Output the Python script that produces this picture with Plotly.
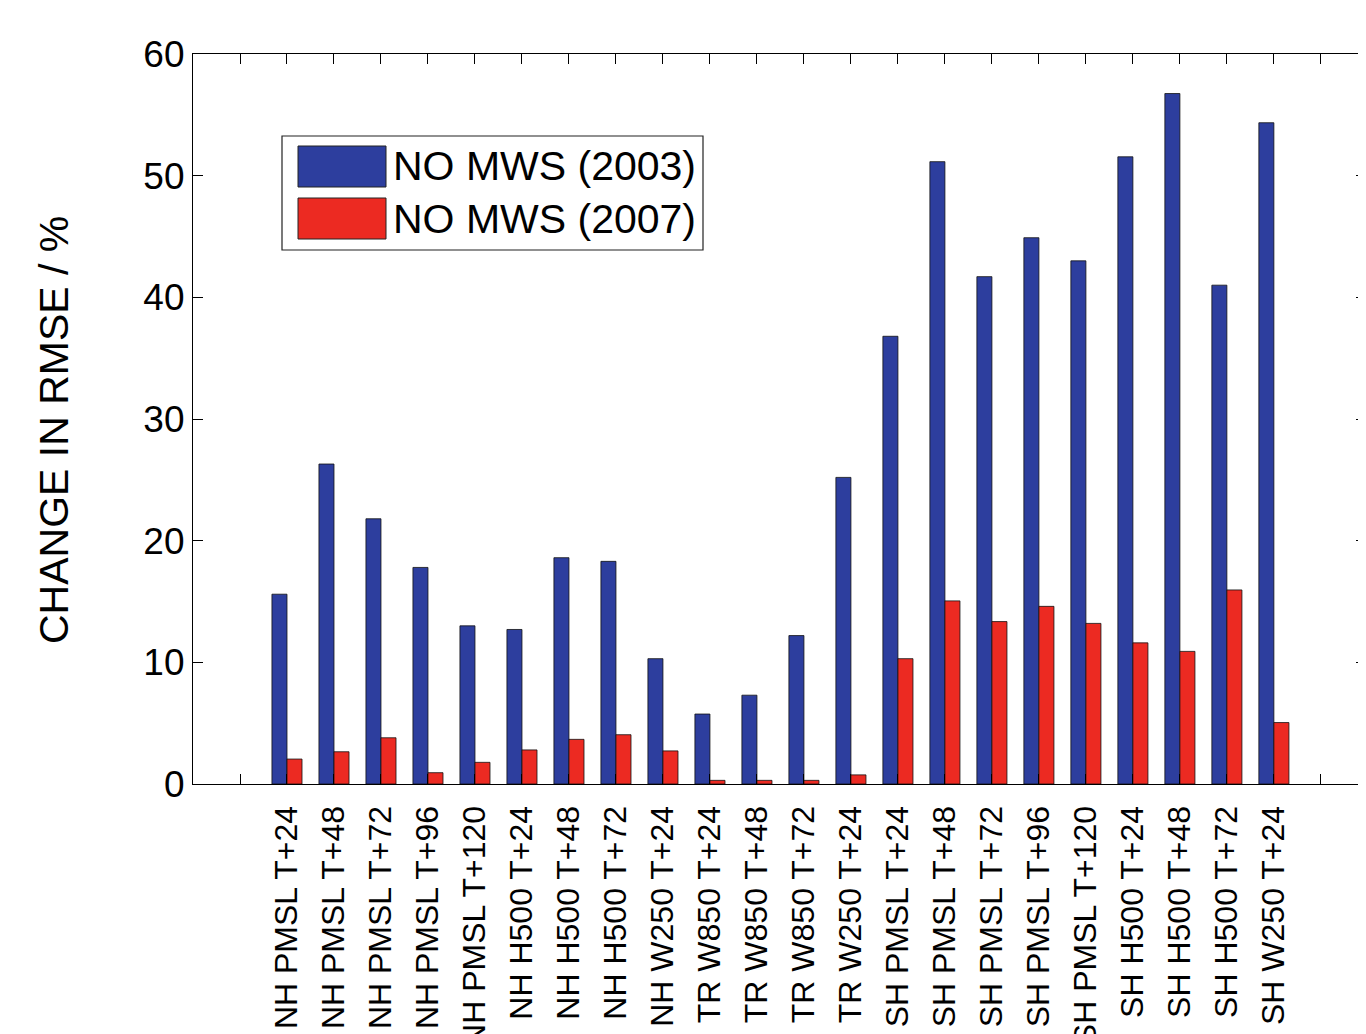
import plotly.graph_objects as go

categories = [
    "NH PMSL T+24", "NH PMSL T+48", "NH PMSL T+72", "NH PMSL T+96", "NH PMSL T+120",
    "NH H500 T+24", "NH H500 T+48", "NH H500 T+72", "NH W250 T+24",
    "TR W850 T+24", "TR W850 T+48", "TR W850 T+72", "TR W250 T+24",
    "SH PMSL T+24", "SH PMSL T+48", "SH PMSL T+72", "SH PMSL T+96", "SH PMSL T+120",
    "SH H500 T+24", "SH H500 T+48", "SH H500 T+72", "SH W250 T+24",
]
no_mws_2003 = [15.6, 26.3, 21.8, 17.8, 13.0, 12.7, 18.6, 18.3, 10.3,
               5.75, 7.3, 12.2, 25.2,
               36.8, 51.15, 41.7, 44.9, 43.0, 51.55, 56.75, 41.0, 54.35]
no_mws_2007 = [2.05, 2.65, 3.8, 0.93, 1.78, 2.8, 3.67, 4.05, 2.72,
               0.3, 0.3, 0.3, 0.75,
               10.3, 15.05, 13.35, 14.6, 13.2, 11.6, 10.9, 15.95, 5.05]
series_names = ["NO MWS (2003)", "NO MWS (2007)"]
y_ticks = [0, 10, 20, 30, 40, 50, 60]

BLUE = "#2D3E9E"
RED = "#EC2A22"
FONT = "Liberation Sans, Arial, Helvetica, sans-serif"

# page body has an 8px margin; compensate so the plot lands where the reference has it
OFF = 8
W, H = 1366 - OFF, 1034 - OFF
ML, MR, MT, MB = 193 - OFF, 0, 54 - OFF, 250
PW, PH = W - ML - MR, H - MT - MB

positions = list(range(1, len(categories) + 1))
tick_positions = list(range(0, len(categories) + 2))
tick_text = [""] + categories + [""]

fig = go.Figure()
fig.add_trace(go.Bar(x=positions, y=no_mws_2003, name=series_names[0],
                     marker=dict(color=BLUE, line=dict(color="#111111", width=0.8))))
fig.add_trace(go.Bar(x=positions, y=no_mws_2007, name=series_names[1],
                     marker=dict(color=RED, line=dict(color="#111111", width=0.8))))


def px_x(p):
    # p: pixel in reference image coordinates
    return (p - OFF - ML) / PW


def px_y(p):
    return (H - MB - (p - OFF)) / PH


shapes = []
annotations = []
shapes.append(dict(type="rect", xref="paper", yref="paper",
                   x0=px_x(282), x1=px_x(703), y0=px_y(250), y1=px_y(136),
                   line=dict(color="#222222", width=1.2), fillcolor="white", layer="above"))
for i, (nm, col) in enumerate(zip(series_names, [BLUE, RED])):
    top = 146 + i * 52
    shapes.append(dict(type="rect", xref="paper", yref="paper",
                       x0=px_x(298), x1=px_x(386), y0=px_y(top + 41), y1=px_y(top),
                       line=dict(color="#222222", width=1), fillcolor=col, layer="above"))
    annotations.append(dict(xref="paper", yref="paper", x=px_x(391), y=px_y(top + 20.5),
                            text=nm, showarrow=False, xanchor="left", yanchor="middle",
                            font=dict(family=FONT, size=41, color="black")))

annotations.append(dict(xref="paper", yref="paper", x=px_x(54), y=px_y(430),
                        text="CHANGE IN RMSE / %", textangle=-90, showarrow=False,
                        xanchor="center", yanchor="middle",
                        font=dict(family=FONT, size=41, color="black")))

fig.update_layout(
    width=W, height=H,
    margin=dict(l=ML, r=MR, t=MT, b=MB, autoexpand=False),
    paper_bgcolor="white", plot_bgcolor="white",
    barmode="group", bargap=0.36, bargroupgap=0.0,
    showlegend=False,
    shapes=shapes, annotations=annotations,
    font=dict(family=FONT, color="black"),
)
fig.update_xaxes(
    range=[-1, len(categories) + 1.96],
    tickmode="array", tickvals=tick_positions, ticktext=tick_text,
    tickangle=-90, ticks="inside", ticklen=10, tickcolor="black", tickwidth=1.2,
    showline=True, linecolor="black", linewidth=1.2, mirror="ticks",
    showgrid=False, zeroline=False,
    tickfont=dict(family=FONT, size=32, color="black"),
    ticklabelstandoff=8,
)
fig.update_yaxes(
    range=[0, 60], tickmode="array", tickvals=y_ticks,
    ticks="inside", ticklen=10, tickcolor="black", tickwidth=1.2,
    showline=True, linecolor="black", linewidth=1.2, mirror="ticks",
    showgrid=False, zeroline=False,
    tickfont=dict(family=FONT, size=37, color="black"),
)

fig.write_html("out.html")
